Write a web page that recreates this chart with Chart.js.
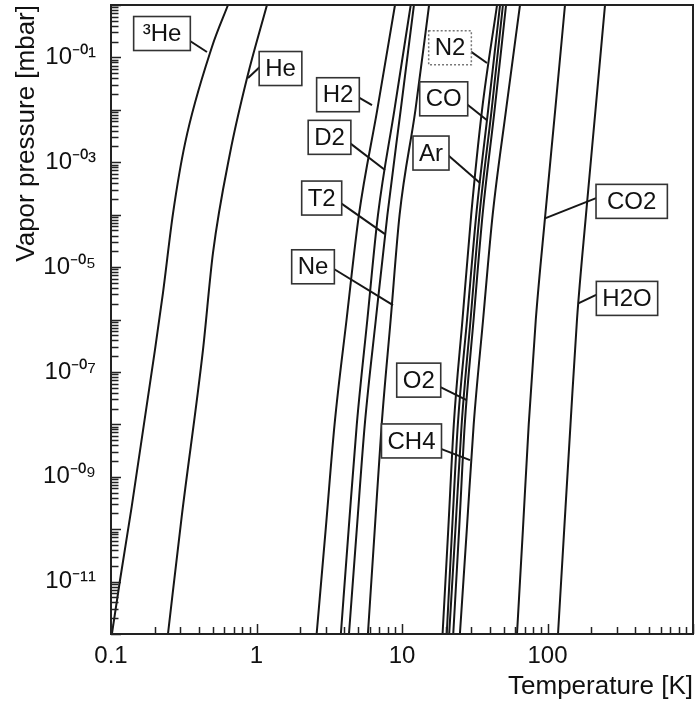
<!DOCTYPE html>
<html><head><meta charset="utf-8">
<script src="https://cdn.jsdelivr.net/npm/chart.js@4/dist/chart.umd.min.js"></script>
<style>html,body{margin:0;padding:0;background:#fff}canvas{display:block}</style>
</head><body>
<canvas id="c" width="696" height="704"></canvas>
<script>
// ---- Tick labels ----
const xLabelValues = [0.1, 1, 10, 100];
const yLabelExponents = [-1, -3, -5, -7, -9, -11];

// ---- Series (temperature in K at given vapor pressure in mbar) ----
const he3T = [0.1016, 0.1153, 0.1387, 0.2004, 0.2275, 0.267, 0.323, 0.494, 0.637];
const he3P = [1.03e-12, 1.06e-11, 2.66e-10, 2.6e-7, 3.19e-6, 1.07e-4, 2.32e-3, 0.158, 1];
const heT = [0.2466, 0.306, 0.4285, 0.502, 0.658, 0.861, 1.18];
const heP = [1.03e-12, 1.72e-10, 2.6e-7, 1.85e-5, 1.5e-3, 0.0404, 1];

const pLevels = [1e-12, 1e-10, 1e-8, 1e-6, 1e-4, 1e-2, 1];
const h2T  = [2.59, 2.99, 3.44, 4.16, 5.06, 6.76, 8.95];
const d2T  = [3.80, 4.30, 4.89, 5.78, 6.84, 8.87, 11.48];
const t2T  = [4.32, 4.89, 5.55, 6.61, 7.94, 9.80, 12.08];
const neT  = [5.83, 6.50, 7.25, 8.36, 9.63, 12.37, 15.35];
const n2T  = [19.0, 20.8, 22.7, 26.05, 29.9, 35.5, 45.0];
const coT  = [20.3, 22.1, 24.2, 28.0, 32.4, 39.1, 47.2];
const arT  = [21.1, 23.3, 25.7, 29.6, 34.1, 41.3, 49.4];
const o2T  = [22.5, 24.7, 27.0, 31.05, 35.8, 43.3, 51.9];
const ch4T = [25.0, 27.9, 31.1, 36.1, 42.0, 51.9, 64.7];
const co2T = [61.7, 67.8, 74.3, 83.1, 96.6, 113.0, 131.9];
const h2oT = [118.1, 130.3, 143.9, 159.5, 183.9, 213.8, 248.5];

const seriesNames = ['³He','He','H2','D2','T2','Ne','N2','CO','Ar','O2','CH4','CO2','H2O'];
const seriesT = [he3T, heT, h2T, d2T, t2T, neT, n2T, coT, arT, o2T, ch4T, co2T, h2oT];
const seriesP = [he3P, heP, pLevels, pLevels, pLevels, pLevels, pLevels, pLevels, pLevels, pLevels, pLevels, pLevels, pLevels];

// ---- Label annotations (data units): box centre, leader start, leader end ----
const labelNotes = [
  {text:'³He', c:[0.2241,0.2858], a:[0.349,0.2148], b:[0.4567,0.1268], pad:9},
  {text:'He',  c:[1.462,0.0614],  a:[1.057,0.0716], b:[0.874,0.04044]},
  {text:'H2',  c:[3.63,0.01942],  a:[5.064,0.01778], b:[6.22,0.01235]},
  {text:'D2',  c:[3.176,2.987e-3], a:[4.462,2.325e-3], b:[7.64,7.10e-4]},
  {text:'T2',  c:[2.806,2.074e-4], a:[3.852,1.665e-4], b:[7.64,4.264e-5]},
  {text:'Ne',  c:[2.446,1.013e-5], a:[3.409,9.57e-6], b:[8.67,1.883e-6]},
  {text:'N2',  c:[21.38,0.1525],  a:[29.34,0.1384], b:[38.38,0.0782], dotted:true},
  {text:'CO',  c:[19.35,0.01622], a:[28.10,0.0133], b:[38.2,6.39e-3]},
  {text:'Ar',  c:[15.82,1.498e-3], a:[21.14,1.372e-3], b:[34.36,4.01e-4]},
  {text:'CO2', c:[379,1.794e-4],  a:[214.5,2.196e-4], b:[96.1,8.50e-5], pad:11},
  {text:'H2O', c:[351.9,2.527e-6], a:[214.5,3.148e-6], b:[162.8,2.029e-6]},
  {text:'O2',  c:[13.03,6.97e-8], a:[18.45,5.194e-8], b:[27.84,2.895e-8]},
  {text:'CH4', c:[11.62,4.82e-9], a:[18.45,3.467e-9], b:[29.34,2.074e-9]}
];

const FONT = "'Liberation Sans', Arial, sans-serif";
const LINE = '#161616';
const supMap = {'-':'⁻','0':'⁰','1':'¹','2':'²','3':'³','4':'⁴','5':'⁵','6':'⁶','7':'⁷','8':'⁸','9':'⁹'};
function isPow10(v){ const l = Math.log10(v); return Math.abs(l - Math.round(l)) < 1e-6; }
function decadeTicks(e0, e1){
  const t = [];
  for (let e = e0; e < e1; e++) for (let m = 1; m <= 9; m++) t.push({value: +(m * Math.pow(10, e)).toPrecision(6)});
  t.push({value: Math.pow(10, e1)});
  return t;
}

const datasets = seriesNames.map((name, i) => ({
  label: name,
  data: seriesT[i].map((t, k) => ({x: t, y: seriesP[i][k]})),
  borderColor: LINE,
  borderWidth: 2,
  pointRadius: 0,
  fill: false,
  cubicInterpolationMode: 'monotone'
}));

const framePlugin = {
  id: 'frameTicks',
  afterDatasetsDraw(chart){
    const {ctx, chartArea: a, scales: {x, y}} = chart;
    ctx.save();
    ctx.strokeStyle = '#222';
    ctx.lineWidth = 1.5;
    ctx.beginPath();
    x.ticks.forEach(t => {
      const px = Math.round(x.getPixelForValue(t.value)) + 0.5;
      const len = isPow10(t.value) ? 10 : 7;
      ctx.moveTo(px, a.bottom); ctx.lineTo(px, a.bottom - len);
    });
    y.ticks.forEach(t => {
      const py = Math.round(y.getPixelForValue(t.value)) + 0.5;
      const len = isPow10(t.value) ? 10 : 7.5;
      ctx.moveTo(a.left, py); ctx.lineTo(a.left + len, py);
    });
    ctx.stroke();
    ctx.lineWidth = 2;
    ctx.strokeStyle = '#222';
    ctx.strokeRect(a.left, a.top, a.right - a.left, a.bottom - a.top);
    ctx.restore();
  }
};

const notesPlugin = {
  id: 'notes',
  afterDraw(chart){
    const {ctx, scales: {x, y}} = chart;
    ctx.save();
    ctx.font = '24px ' + FONT;
    labelNotes.forEach(n => {
      const ax = x.getPixelForValue(n.a[0]), ay = y.getPixelForValue(n.a[1]);
      const bx = x.getPixelForValue(n.b[0]), by = y.getPixelForValue(n.b[1]);
      const cx = x.getPixelForValue(n.c[0]), cy = y.getPixelForValue(n.c[1]);
      ctx.strokeStyle = LINE; ctx.lineWidth = 2; ctx.setLineDash([]);
      ctx.beginPath(); ctx.moveTo(ax + (cx - ax) * 0.08, ay + (cy - ay) * 0.08); ctx.lineTo(bx, by); ctx.stroke();
      const tw = ctx.measureText(n.text).width;
      const pad = n.pad || 6;
      const w = tw + 2 * pad, h = 34;
      ctx.fillStyle = '#fff';
      ctx.fillRect(cx - w / 2, cy - h / 2, w, h);
      if (n.dotted) { ctx.setLineDash([2, 2]); ctx.strokeStyle = '#777'; ctx.lineWidth = 1.5; }
      else { ctx.setLineDash([]); ctx.strokeStyle = '#333'; ctx.lineWidth = 1.6; }
      ctx.strokeRect(cx - w / 2, cy - h / 2, w, h);
      ctx.setLineDash([]);
      ctx.fillStyle = '#111';
      ctx.textAlign = 'center'; ctx.textBaseline = 'middle';
      ctx.fillText(n.text, cx, cy + 1);
    });
    ctx.restore();
  }
};

new Chart(document.getElementById('c'), {
  type: 'line',
  data: {datasets},
  options: {
    responsive: false,
    animation: false,
    devicePixelRatio: 1,
    layout: {padding: {top: 5, right: 3, left: 0, bottom: 0}},
    plugins: {legend: {display: false}, tooltip: {enabled: false}},
    scales: {
      x: {
        type: 'logarithmic', min: 0.1, max: 1000,
        afterBuildTicks: s => { s.ticks = decadeTicks(-1, 3); },
        afterFit: s => { s.height = 70; s.paddingLeft = 0; s.paddingRight = 0; s.paddingTop = 0; s.paddingBottom = 0; },
        grid: {display: false, drawTicks: false},
        border: {display: false},
        ticks: {
          autoSkip: false, maxRotation: 0, padding: 8, color: '#111',
          font: {family: FONT, size: 24},
          callback: v => (isPow10(v) && xLabelValues.some(l => Math.abs(l - v) < 1e-9)) ? String(v) : ''
        },
        title: {display: true, text: 'Temperature [K]', align: 'end', color: '#111',
          font: {family: FONT, size: 26}, padding: {top: 0, bottom: 2}}
      },
      y: {
        type: 'logarithmic', min: 1e-12, max: 1,
        afterBuildTicks: s => { s.ticks = decadeTicks(-12, 0); },
        afterFit: s => { s.width = 111; s.paddingTop = 0; s.paddingBottom = 0; s.paddingLeft = 0; s.paddingRight = 0; },
        grid: {display: false, drawTicks: false},
        border: {display: false},
        ticks: {
          autoSkip: false, padding: 15, color: '#111',
          font: {family: FONT, size: 24},
          callback: v => {
            if (!isPow10(v)) return '';
            const e = Math.round(Math.log10(v));
            if (!yLabelExponents.includes(e)) return '';
            const s = (e < 0 ? '-' : '') + String(Math.abs(e)).padStart(2, '0');
            return '10' + s.split('').map(ch => supMap[ch]).join('');
          }
        },
        title: {display: true, text: 'Vapor pressure [mbar]', align: 'end', color: '#111',
          font: {family: FONT, size: 26}, padding: {top: 11, bottom: 0}}
      }
    }
  },
  plugins: [framePlugin, notesPlugin]
});
</script>
</body></html>
